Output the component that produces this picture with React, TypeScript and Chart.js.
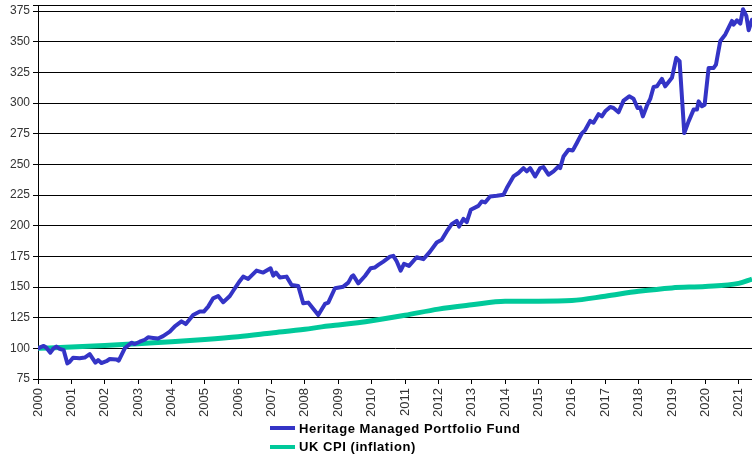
import React, { useEffect, useRef } from "react";
import { Chart, registerables } from "chart.js";

Chart.register(...registerables);

const yearTicks: number[] = [2000, 2001, 2002, 2003, 2004, 2005, 2006, 2007, 2008, 2009, 2010, 2011, 2012, 2013, 2014, 2015, 2016, 2017, 2018, 2019, 2020, 2021];
const valueTicks: number[] = [75, 100, 125, 150, 175, 200, 225, 250, 275, 300, 325, 350, 375];

const fundLabel = "Heritage Managed Portfolio Fund";
const cpiLabel = "UK CPI (inflation)";

const fundYears: number[] = [
  2000.0, 2000.08, 2000.17, 2000.25, 2000.37, 2000.45, 2000.55, 2000.65, 2000.77, 2000.88, 2000.95,
  2001.05, 2001.25, 2001.4, 2001.55, 2001.72, 2001.8, 2001.9, 2002.05, 2002.15, 2002.35, 2002.42,
  2002.6, 2002.8, 2002.9, 2003.05, 2003.2, 2003.3, 2003.45, 2003.6, 2003.75, 2003.95, 2004.1,
  2004.3, 2004.43, 2004.65, 2004.85, 2004.97, 2005.1, 2005.25, 2005.4, 2005.55, 2005.75, 2005.9,
  2006.05, 2006.15, 2006.3, 2006.55, 2006.75, 2006.97, 2007.05, 2007.13, 2007.25, 2007.45, 2007.6,
  2007.8, 2007.95, 2008.1, 2008.4, 2008.6, 2008.7, 2008.9, 2009.15, 2009.3, 2009.4, 2009.45, 2009.6,
  2009.8, 2009.97, 2010.1, 2010.2, 2010.35, 2010.55, 2010.65, 2010.75, 2010.87, 2010.97, 2011.12,
  2011.35, 2011.55, 2011.75, 2011.95, 2012.1, 2012.25, 2012.4, 2012.55, 2012.62, 2012.75, 2012.85,
  2012.97, 2013.2, 2013.3, 2013.4, 2013.55, 2013.75, 2013.95, 2014.05, 2014.25, 2014.4, 2014.55,
  2014.65, 2014.75, 2014.9, 2015.05, 2015.15, 2015.3, 2015.45, 2015.6, 2015.65, 2015.75, 2015.9,
  2016.03, 2016.15, 2016.3, 2016.4, 2016.55, 2016.65, 2016.8, 2016.9, 2017.0, 2017.15, 2017.25,
  2017.4, 2017.55, 2017.72, 2017.85, 2017.97, 2018.05, 2018.13, 2018.25, 2018.35, 2018.45, 2018.55,
  2018.7, 2018.8, 2019.0, 2019.13, 2019.23, 2019.37, 2019.5, 2019.65, 2019.75, 2019.8, 2019.9,
  2019.98, 2020.1, 2020.25, 2020.32, 2020.45, 2020.6, 2020.7, 2020.8, 2020.85, 2020.95, 2021.05,
  2021.13, 2021.23, 2021.3, 2021.4,
];

const fundValues: number[] = [
  100, 101, 102, 100.5, 96.5, 99.5, 101.5, 99.5, 98.5, 87.7, 89,
  92.3, 92, 92.5, 95.3, 88.3, 90.4, 88, 89.5, 91.3, 91, 90,
  100, 104.6, 103.5, 105.4, 107, 109, 108.5, 108, 110, 113.6, 118,
  122, 119.8, 127.2, 130, 130, 134, 140.8, 142.7, 137.6, 142.7, 149,
  155, 158.5, 156.6, 163.4, 161.8, 165.3, 159.3, 161.8, 157.7, 158.5, 151.7,
  150.9, 136.7, 137.3, 127.2, 136.2, 137.3, 149, 150.3, 153.6, 158.5, 159.5, 153,
  159, 165.3, 166, 168, 170.8, 174.8, 175.4, 171, 163.4, 168.9, 167.2,
  174.3, 172.7, 178.9, 186.3, 188.5, 195.3, 201.3, 204, 199.3, 205.6, 203,
  213, 216.2, 219.8, 219, 223.9, 224.4, 225.2, 230.7, 240.2, 243, 247,
  244.3, 247, 240.2, 247, 247.8, 241.6, 244.3, 248.3, 247, 256.5, 262,
  261.4, 267.5, 275.3, 278, 285.5, 284, 291, 289.2, 293.3, 296.9, 296,
  292.5, 302, 305.5, 303.6, 296, 296.5, 289.2, 297.9, 303.4, 313.2, 313.7,
  319.7, 313.7, 320.6, 336.9, 334.2, 275.6, 285.1, 294.7, 294.7, 301.4, 297.4,
  298.7, 328.7, 328.7, 331.4, 350.7, 356, 361.5, 367, 364, 367.5, 364.8,
  376.6, 371.2, 359.4, 368,
];

const cpiYears: number[] = [2000, 2001, 2002, 2003, 2004, 2005, 2006, 2007, 2008, 2008.5, 2009, 2010, 2011, 2012, 2013, 2014, 2015, 2016, 2017, 2018, 2019, 2020, 2021, 2021.4];
const cpiValues: number[] = [100, 101, 102.3, 103.8, 105.3, 107.2, 109.5, 112.5, 115.5, 117.5, 119, 122.5, 127, 132, 135.5, 138.5, 138.5, 139, 142.5, 146.5, 149.3, 150.5, 153, 156.5];

const fundColor = "#3434c6";
const cpiColor = "#00c99a";

export default function App() {
  const canvasRef = useRef<HTMLCanvasElement | null>(null);

  useEffect(() => {
    const canvas = canvasRef.current;
    if (!canvas) return;
    const chart = new Chart(canvas, {
      type: "line",
      data: {
        datasets: [
          {
            label: fundLabel,
            data: fundYears.map((x, i) => ({ x, y: fundValues[i] })),
            borderColor: fundColor,
            backgroundColor: fundColor,
            borderWidth: 4,
            pointRadius: 0,
            tension: 0,
            borderJoinStyle: "round",
            borderCapStyle: "round",
          },
          {
            label: cpiLabel,
            data: cpiYears.map((x, i) => ({ x, y: cpiValues[i] })),
            borderColor: cpiColor,
            backgroundColor: cpiColor,
            borderWidth: 5,
            pointRadius: 0,
            cubicInterpolationMode: "monotone",
          },
        ],
      },
      options: {
        responsive: false,
        animation: false,
        devicePixelRatio: 1,
        layout: { padding: { top: 5, right: 0, left: 0, bottom: 0 } },
        plugins: { legend: { display: false }, tooltip: { enabled: false } },
        scales: {
          x: {
            type: "linear",
            min: 2000,
            max: 2021.4,
            afterBuildTicks: (scale: any) => {
              scale.ticks = yearTicks.map((v) => ({ value: v }));
            },
            afterFit: (scale: any) => {
              scale.height = 78;
              scale.paddingLeft = 0;
              scale.paddingRight = 0;
            },
            ticks: {
              autoSkip: false,
              maxRotation: 90,
              minRotation: 90,
              padding: 4,
              color: "#333",
              font: { family: "'Liberation Sans', Arial, sans-serif", size: 13 },
              callback: (v: any) => String(v),
            },
            grid: { drawOnChartArea: false, drawTicks: true, tickLength: 5, color: "#000" },
            border: { color: "#000", width: 1 },
          },
          y: {
            min: 75,
            max: 380,
            afterBuildTicks: (scale: any) => {
              scale.ticks = [...valueTicks, 380].map((v) => ({ value: v }));
            },
            afterFit: (scale: any) => {
              scale.width = 38;
              scale.paddingTop = 0;
              scale.paddingBottom = 0;
            },
            ticks: {
              autoSkip: false,
              padding: 3,
              color: "#333",
              font: { family: "'Liberation Sans', Arial, sans-serif", size: 12 },
              callback: (v: any) => (v === 380 ? "" : String(v)),
            },
            grid: { color: "#000", lineWidth: 1, tickLength: 5 },
            border: { color: "#000", width: 1 },
          },
        },
      },
    });
    return () => chart.destroy();
  }, []);

  const legendText: React.CSSProperties = {
    position: "absolute",
    left: 299,
    font: "bold 13px 'Liberation Sans', Arial, sans-serif",
    letterSpacing: "0.55px",
    lineHeight: "15px",
    color: "#000",
    whiteSpace: "nowrap",
  };

  return (
    <div style={{ position: "absolute", left: 0, top: 0, width: 752, height: 457, background: "#fff" }}>
      <canvas ref={canvasRef} width={752} height={457} style={{ display: "block", width: 752, height: 457 }} />
      <div style={{ position: "absolute", left: 270, top: 426, width: 25, height: 4, background: fundColor }} />
      <div style={{ ...legendText, top: 420.5 }}>{fundLabel}</div>
      <div style={{ position: "absolute", left: 270, top: 445, width: 25, height: 4, background: cpiColor }} />
      <div style={{ ...legendText, top: 439 }}>{cpiLabel}</div>
    </div>
  );
}
